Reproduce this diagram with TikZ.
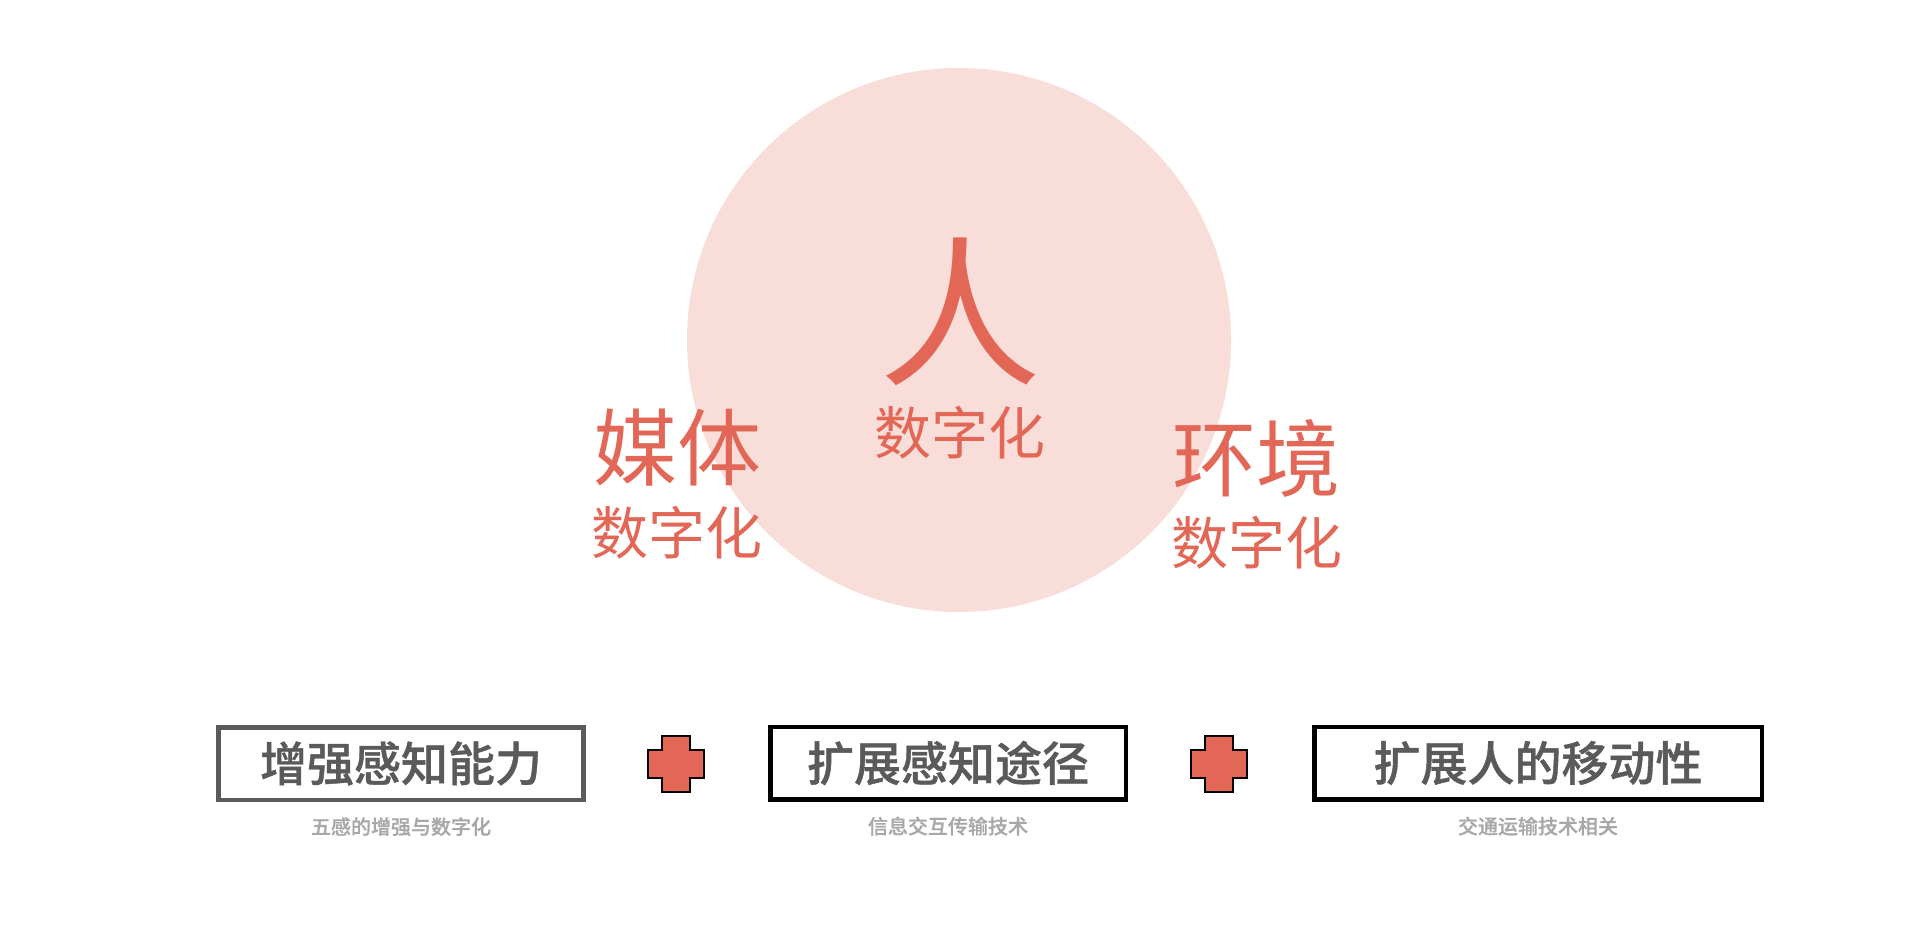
\documentclass[tikz,border=0pt]{standalone}
\usepackage{fontspec}
\setmainfont{Noto Sans CJK SC}
\newfontfamily\heavyfont[FakeBold=0.8]{Noto Sans CJK SC Medium}
\usetikzlibrary{positioning}
\definecolor{salmon}{HTML}{E26756}
\definecolor{blush}{HTML}{F8DDD8}
\definecolor{boxgray}{HTML}{5A5A5A}
\definecolor{subgray}{HTML}{A8A8A8}

\begin{document}
\begin{tikzpicture}[
            x=1pt, y=-1pt,
            every node/.style={inner sep=0pt, align=center},
            big/.style={text=salmon, font=\fontsize{84}{84}\selectfont},
            small/.style={text=salmon, font=\fontsize{57}{57}\selectfont},
            ability/.style={draw, line width=4.5pt, fill=white, minimum width=365pt, minimum height=72.5pt,
                            text=boxgray, font=\heavyfont\fontsize{47}{47}\selectfont},
            note/.style={text=subgray, font=\heavyfont\fontsize{20}{20}\selectfont},
            plusmark/.style={draw=black, line width=1.5pt, fill=salmon, line join=miter},
            node distance = 15pt
  ]

  \useasboundingbox[fill=white] (0,0) rectangle (1920,938);

  % center: the person
  \fill[blush] (959,340) circle (272);
  \node[text=salmon, font=\fontsize{162}{162}\selectfont] (ren) at (960,312) {人};
  \node[small] (renSub) at (960,433) {数字化};

  \node[big] (media) at (677,448) {媒体};
  \node[small] (mediaSub) at (677,533) {数字化};

  \node[big] (env) at (1256,458) {环境};
  \node[small] (envSub) at (1257,543) {数字化};

  % bottom row
  \node[ability, draw=boxgray] (sense) at (401,763.5) {增强感知能力};
  \node[ability, draw=black, minimum width=355.5pt] (path) at (948,763) {扩展感知途径};
  \node[ability, draw=black, minimum width=447.5pt] (move) at (1538,763) {扩展人的移动性};

  \node[note] (senseNote) [below=of sense] {五感的增强与数字化};
  \node[note] (pathNote) [below=of path] {信息交互传输技术};
  \node[note] (moveNote) [below=of move] {交通运输技术相关};

  \coordinate (plusA) at (676,764);
  \coordinate (plusB) at (1219,764);
  \foreach \p in {plusA,plusB}
    \draw[plusmark, shift={(\p)}] (-14,-28) -- (14,-28) -- (14,-14) -- (28,-14) -- (28,14) -- (14,14)
      -- (14,28) -- (-14,28) -- (-14,14) -- (-28,14) -- (-28,-14) -- (-14,-14) -- cycle;

\end{tikzpicture}
\end{document}
